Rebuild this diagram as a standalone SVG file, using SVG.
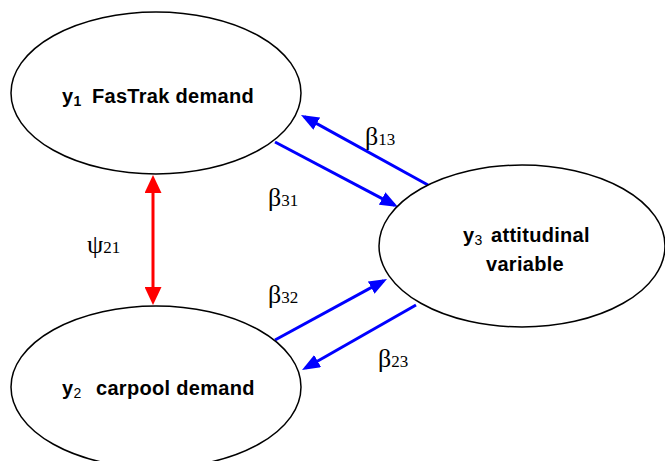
<svg xmlns="http://www.w3.org/2000/svg" width="665" height="461" viewBox="0 0 665 461">
<style>
.node{fill:#fff;stroke:#000;stroke-width:1.5}
.lbl{font-family:"Liberation Sans",Arial,sans-serif;font-weight:bold;font-size:20px;letter-spacing:0.3px;fill:#000}
.sub{font-size:14px}
.gr{font-family:"Liberation Serif","Times New Roman",serif;fill:#000}
.g{font-size:26px}
.d{font-size:17px}
.blue{stroke:#0000ff;stroke-width:3;fill:none}
.red{stroke:#ff0000;stroke-width:3;fill:none}
</style>
<defs>
<marker id="ab" viewBox="0 0 18 14" refX="14" refY="7" markerWidth="18" markerHeight="14" markerUnits="userSpaceOnUse" orient="auto"><path d="M0,0 L18,7 L0,14 z" fill="#0000ff"/></marker>
<marker id="ar" viewBox="0 0 18 17" refX="14" refY="8.5" markerWidth="18" markerHeight="17" markerUnits="userSpaceOnUse" orient="auto-start-reverse"><path d="M0,0 L18,8.5 L0,17 z" fill="#ff0000"/></marker>
</defs>
<g id="connectors">
<line class="blue" x1="275" y1="142" x2="394.5" y2="205.1" marker-end="url(#ab)"/>
<line class="blue" x1="428" y1="185" x2="304.5" y2="116.9" marker-end="url(#ab)"/>
<line class="blue" x1="275" y1="340" x2="383.5" y2="280.9" marker-end="url(#ab)"/>
<line class="blue" x1="416" y1="305" x2="305.5" y2="368" marker-end="url(#ab)"/>
<line class="red" x1="153" y1="179" x2="153" y2="301" marker-start="url(#ar)" marker-end="url(#ar)"/>
</g>
<g id="node-y1">
<ellipse class="node" cx="156" cy="93" rx="145" ry="81"/>
<text class="lbl" x="62" y="103">y<tspan class="sub" dy="3">1</tspan><tspan x="92" dy="-3">FasTrak demand</tspan></text>
</g>
<g id="node-y2">
<ellipse class="node" cx="156" cy="387" rx="145" ry="81"/>
<text class="lbl" x="62" y="395">y<tspan class="sub" dy="3" font-weight="normal">2</tspan><tspan x="96" dy="-3">carpool demand</tspan></text>
</g>
<g id="node-y3">
<ellipse class="node" cx="522" cy="246" rx="143" ry="81"/>
<text class="lbl" x="463" y="242">y<tspan class="sub" dy="3" font-weight="normal">3</tspan><tspan x="491" dy="-3">attitudinal</tspan></text>
<text class="lbl" x="525" y="271" text-anchor="middle">variable</text>
</g>
<g id="labels">
<text class="gr" x="365" y="145"><tspan class="g">β</tspan><tspan class="d">13</tspan></text>
<text class="gr" x="268" y="206"><tspan class="g">β</tspan><tspan class="d">31</tspan></text>
<text class="gr" x="268" y="303"><tspan class="g">β</tspan><tspan class="d">32</tspan></text>
<text class="gr" x="378" y="367"><tspan class="g">β</tspan><tspan class="d">23</tspan></text>
<text class="gr" x="87" y="253"><tspan class="g">ψ</tspan><tspan class="d">21</tspan></text>
</g>
</svg>
